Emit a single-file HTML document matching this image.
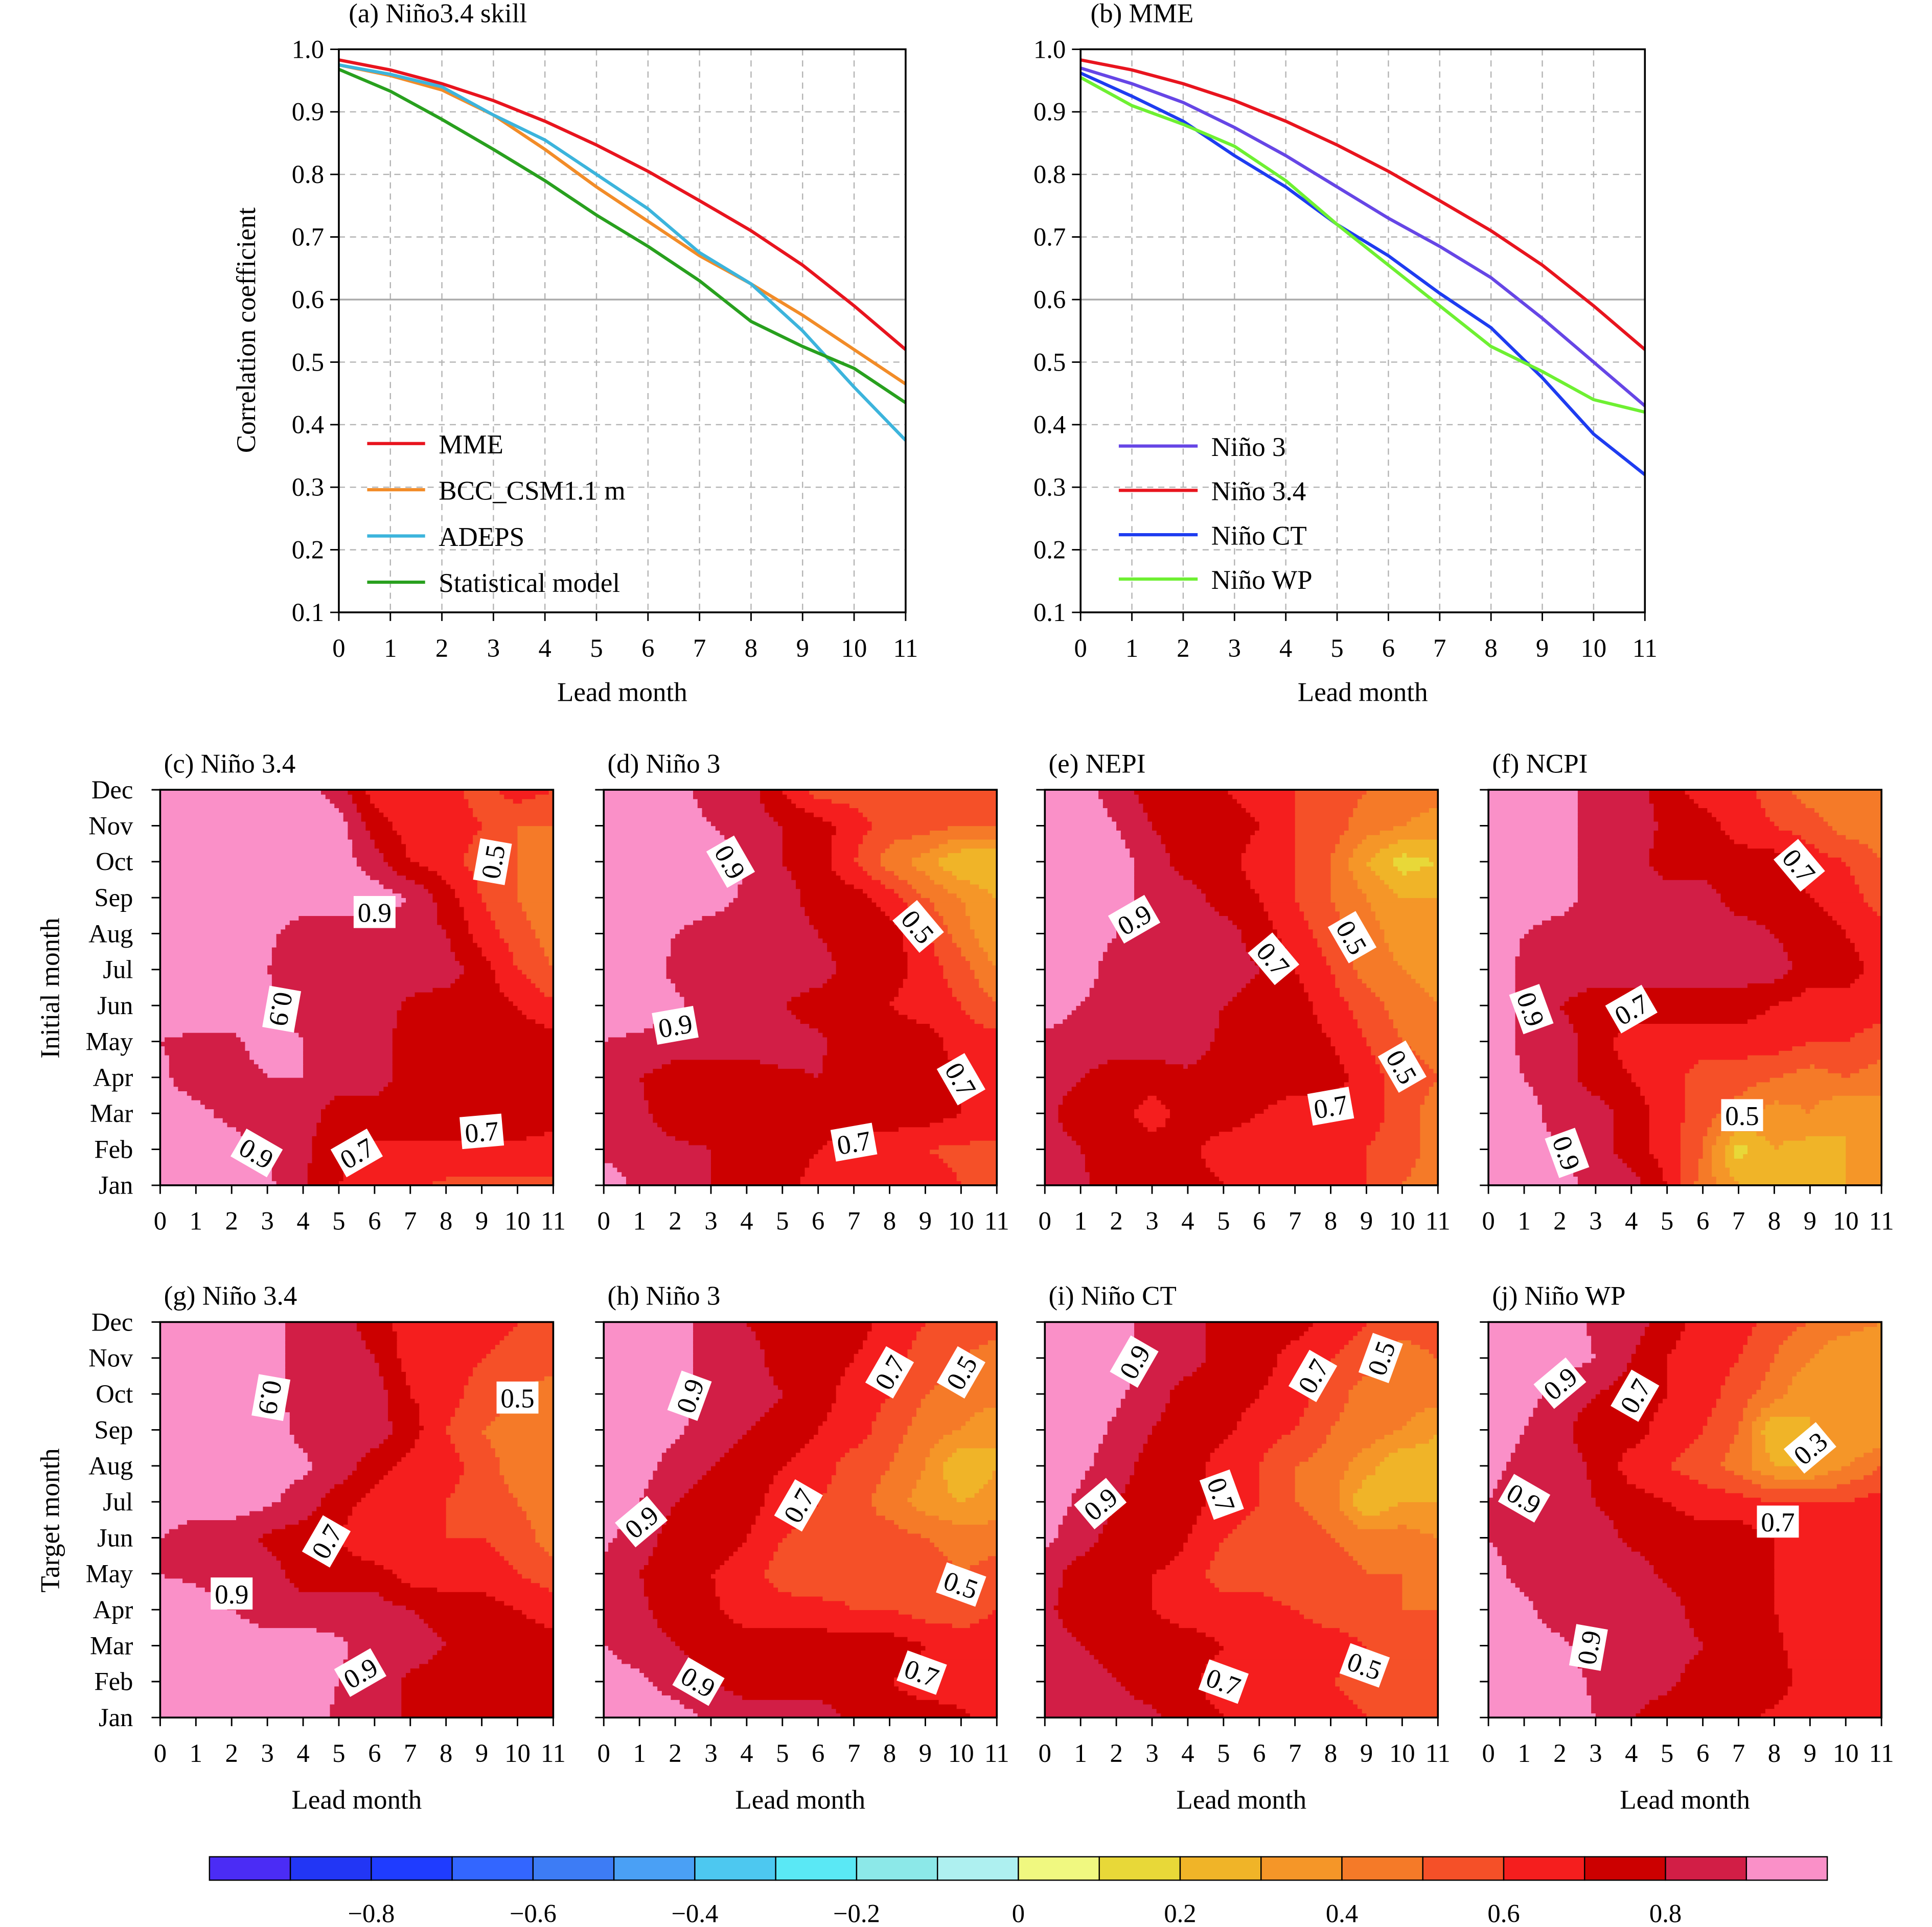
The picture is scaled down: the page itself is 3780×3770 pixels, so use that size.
<!DOCTYPE html>
<html><head><meta charset="utf-8">
<style>
html,body{margin:0;padding:0;background:#fff;}
svg{display:block;}
text{font-family:"Liberation Serif",serif;fill:#000;}
</style></head>
<body>
<svg id="fig" xmlns="http://www.w3.org/2000/svg" width="3780" height="3770" viewBox="0 0 1568 1564" preserveAspectRatio="none">
<rect x="0" y="0" width="1568" height="1564" fill="#fff"/>
</svg>
<script>
// ---------- line chart data ----------
const leads = [0,1,2,3,4,5,6,7,8,9,10,11];
const yTicks = [0.1,0.2,0.3,0.4,0.5,0.6,0.7,0.8,0.9,1.0];
const mmeVals = [0.983,0.967,0.945,0.918,0.885,0.847,0.805,0.758,0.71,0.655,0.59,0.52];
const bccVals = [0.975,0.958,0.935,0.895,0.84,0.78,0.725,0.67,0.625,0.575,0.52,0.465];
const adepsVals = [0.975,0.96,0.94,0.895,0.855,0.8,0.745,0.675,0.625,0.55,0.46,0.375];
const statVals = [0.968,0.933,0.888,0.84,0.79,0.735,0.685,0.63,0.565,0.525,0.49,0.435];
const nino3Vals = [0.97,0.945,0.915,0.875,0.83,0.78,0.73,0.685,0.635,0.57,0.5,0.43];
const nino34Vals = [0.983,0.967,0.945,0.918,0.885,0.847,0.805,0.758,0.71,0.655,0.59,0.52];
const ninoCTVals = [0.962,0.925,0.885,0.83,0.78,0.72,0.67,0.61,0.555,0.475,0.385,0.32];
const ninoWPVals = [0.955,0.91,0.88,0.845,0.79,0.72,0.655,0.59,0.525,0.485,0.44,0.42];

// ---------- heatmap data (rows listed Dec (top) -> Jan (bottom), columns lead 0..11) ----------
const months = ['Jan','Feb','Mar','Apr','May','Jun','Jul','Aug','Sep','Oct','Nov','Dec'];
const gridC = [
[.95,.95,.95,.95,.95,.85,.65,.65,.65,.55,.65,.6],
[.95,.95,.95,.95,.95,.95,.75,.65,.65,.6,.5,.5],
[.95,.95,.95,.95,.95,.95,.85,.7,.65,.55,.5,.45],
[.95,.95,.95,.95,.95,.95,.95,.9,.75,.6,.5,.4],
[.95,.95,.95,.92,.85,.85,.85,.85,.8,.65,.55,.45],
[.95,.95,.95,.9,.85,.85,.85,.85,.85,.75,.6,.5],
[.95,.95,.95,.92,.85,.85,.85,.78,.75,.75,.7,.62],
[.9,.88,.88,.95,.9,.85,.85,.75,.75,.75,.75,.75],
[.92,.85,.85,.9,.9,.85,.85,.75,.75,.75,.72,.7],
[.95,.93,.87,.8,.85,.75,.75,.75,.75,.75,.75,.72],
[.95,.95,.95,.9,.82,.72,.68,.68,.68,.68,.68,.68],
[.95,.95,.95,.92,.82,.7,.65,.62,.58,.58,.58,.58]];
const gridD = [
[.95,.95,.95,.85,.85,.7,.55,.55,.55,.55,.55,.55],
[.95,.95,.95,.9,.85,.8,.75,.65,.55,.55,.5,.5],
[.95,.95,.95,.95,.9,.8,.75,.6,.45,.35,.2,.2],
[.95,.95,.95,.95,.88,.85,.75,.75,.65,.5,.4,.3],
[.95,.95,.9,.85,.85,.85,.8,.75,.75,.62,.45,.3],
[.95,.95,.88,.85,.85,.85,.85,.75,.75,.65,.55,.4],
[.95,.95,.92,.85,.85,.8,.75,.75,.7,.65,.6,.5],
[.9,.88,.85,.85,.85,.85,.82,.75,.75,.75,.65,.65],
[.88,.8,.75,.75,.75,.78,.8,.75,.75,.75,.7,.65],
[.85,.82,.75,.75,.75,.75,.75,.75,.75,.75,.7,.65],
[.88,.85,.82,.8,.75,.75,.7,.65,.65,.6,.58,.58],
[.95,.88,.85,.8,.7,.75,.65,.65,.65,.65,.6,.6]];
const gridE = [
[.95,.95,.85,.75,.75,.7,.65,.6,.55,.5,.45,.45],
[.95,.95,.9,.8,.75,.75,.7,.6,.55,.45,.4,.35],
[.95,.95,.95,.85,.75,.75,.65,.6,.5,.3,.15,.2],
[.95,.95,.95,.85,.85,.75,.7,.6,.5,.4,.3,.3],
[.95,.95,.9,.85,.85,.85,.75,.65,.55,.45,.35,.35],
[.95,.95,.85,.85,.85,.85,.8,.7,.6,.45,.4,.35],
[.95,.9,.85,.85,.85,.8,.75,.75,.65,.55,.45,.4],
[.88,.85,.85,.85,.85,.78,.75,.75,.7,.6,.5,.45],
[.85,.8,.75,.75,.78,.75,.75,.75,.75,.65,.55,.5],
[.82,.75,.75,.65,.75,.75,.7,.65,.65,.65,.55,.45],
[.85,.8,.75,.75,.72,.65,.65,.65,.65,.6,.55,.45],
[.85,.82,.75,.75,.75,.7,.65,.65,.65,.6,.5,.45]];
const gridF = [
[.95,.95,.95,.85,.85,.75,.65,.65,.55,.45,.45,.45],
[.95,.95,.95,.85,.85,.78,.75,.65,.6,.55,.45,.45],
[.95,.95,.95,.85,.85,.75,.75,.75,.75,.65,.6,.5],
[.95,.95,.95,.85,.85,.85,.85,.75,.75,.7,.65,.55],
[.95,.9,.85,.85,.85,.85,.85,.85,.8,.75,.7,.65],
[.95,.88,.85,.85,.85,.85,.85,.85,.85,.75,.75,.65],
[.95,.88,.8,.75,.75,.75,.75,.75,.7,.65,.65,.65],
[.95,.88,.85,.75,.65,.65,.65,.65,.65,.6,.6,.55],
[.95,.9,.85,.75,.7,.65,.55,.55,.5,.45,.5,.45],
[.95,.95,.85,.85,.75,.65,.55,.45,.35,.4,.3,.35],
[.95,.95,.9,.85,.75,.65,.5,.15,.3,.25,.3,.3],
[.95,.95,.95,.85,.85,.7,.45,.3,.3,.3,.3,.3]];
const gridG = [
[.95,.95,.95,.95,.85,.85,.75,.65,.65,.65,.6,.55],
[.95,.95,.95,.95,.85,.85,.8,.65,.65,.6,.55,.55],
[.95,.95,.95,.95,.85,.85,.85,.7,.65,.55,.5,.45],
[.95,.95,.95,.95,.87,.85,.85,.75,.6,.5,.45,.45],
[.95,.95,.95,.95,.92,.85,.75,.65,.65,.55,.45,.45],
[.95,.95,.95,.92,.85,.75,.65,.65,.6,.55,.5,.45],
[.9,.85,.85,.78,.75,.7,.6,.65,.6,.6,.55,.45],
[.9,.88,.85,.85,.75,.75,.75,.65,.65,.65,.6,.55],
[.95,.95,.9,.85,.85,.85,.85,.8,.75,.75,.7,.65],
[.95,.95,.95,.95,.95,.92,.85,.85,.8,.75,.75,.75],
[.95,.95,.95,.95,.95,.9,.85,.78,.75,.75,.75,.75],
[.95,.95,.95,.95,.95,.88,.85,.78,.75,.75,.75,.75]];
const gridH = [
[.95,.95,.95,.85,.8,.75,.75,.75,.65,.6,.55,.55],
[.95,.95,.95,.85,.85,.75,.75,.7,.65,.55,.5,.45],
[.95,.95,.95,.87,.85,.8,.75,.65,.6,.5,.45,.45],
[.95,.95,.92,.85,.8,.75,.7,.65,.55,.45,.4,.3],
[.95,.95,.85,.8,.75,.7,.65,.55,.5,.4,.2,.3],
[.95,.9,.8,.75,.75,.65,.6,.55,.45,.35,.3,.35],
[.92,.85,.75,.75,.7,.6,.55,.5,.55,.5,.45,.45],
[.88,.8,.75,.7,.65,.55,.5,.55,.55,.55,.5,.55],
[.85,.82,.75,.72,.65,.65,.65,.6,.6,.55,.55,.6],
[.9,.85,.8,.75,.75,.75,.75,.75,.75,.7,.65,.65],
[.95,.92,.85,.8,.75,.75,.75,.75,.7,.65,.65,.65],
[.95,.95,.95,.88,.85,.85,.85,.78,.75,.75,.72,.65]];
const gridI = [
[.95,.95,.95,.85,.85,.75,.75,.75,.65,.6,.55,.55],
[.95,.95,.95,.85,.85,.75,.75,.65,.6,.55,.45,.5],
[.95,.95,.92,.85,.75,.75,.7,.65,.55,.45,.45,.45],
[.95,.95,.88,.8,.75,.72,.65,.6,.5,.45,.4,.3],
[.95,.92,.85,.75,.75,.65,.6,.5,.45,.35,.2,.25],
[.95,.88,.8,.75,.75,.65,.6,.5,.45,.2,.3,.3],
[.92,.85,.75,.8,.7,.6,.55,.55,.5,.45,.45,.4],
[.85,.75,.75,.7,.65,.55,.55,.5,.55,.5,.5,.45],
[.82,.75,.75,.7,.65,.65,.65,.6,.55,.55,.5,.5],
[.85,.8,.75,.75,.75,.7,.65,.65,.65,.6,.55,.5],
[.88,.85,.8,.75,.72,.65,.65,.65,.6,.55,.55,.55],
[.88,.85,.85,.82,.75,.7,.65,.65,.65,.6,.6,.6]];
const gridJ = [
[.95,.95,.95,.88,.85,.75,.65,.65,.55,.5,.45,.4],
[.95,.95,.95,.9,.8,.7,.65,.6,.5,.4,.3,.3],
[.95,.95,.85,.8,.75,.7,.65,.55,.45,.3,.3,.3],
[.95,.9,.82,.75,.75,.65,.6,.5,.2,.3,.3,.3],
[.92,.88,.85,.78,.65,.6,.55,.45,.3,.3,.4,.5],
[.9,.85,.85,.8,.75,.7,.65,.65,.6,.6,.6,.65],
[.9,.88,.85,.85,.78,.75,.75,.75,.7,.65,.65,.65],
[.92,.88,.85,.85,.85,.78,.75,.72,.7,.65,.65,.65],
[.95,.92,.85,.85,.85,.85,.75,.75,.7,.65,.65,.65],
[.95,.95,.92,.85,.85,.85,.8,.75,.72,.65,.65,.65],
[.95,.95,.95,.88,.85,.82,.75,.75,.75,.65,.65,.65],
[.95,.95,.95,.9,.8,.75,.75,.72,.68,.65,.65,.65]];

// contour labels: [lead, monthIndex(0=Jan), text, angle]
const labelsC = [[6,7.6,'0.9',0],[3.4,4.9,'0.9',100],[9.3,9.0,'0.5',-80],[2.7,0.9,'0.9',30],[5.5,0.9,'0.7',-30],[9.0,1.5,'0.7',-5]];
const labelsD = [[3.55,9.0,'0.9',60],[2.0,4.45,'0.9',-10],[8.8,7.2,'0.5',50],[10.0,2.95,'0.7',60],[7.0,1.2,'0.7',-10]];
const labelsE = [[2.5,7.4,'0.9',-30],[6.4,6.3,'0.7',50],[8.6,6.9,'0.5',60],[10.0,3.3,'0.5',60],[8.0,2.2,'0.7',-10]];
const labelsF = [[8.7,8.9,'0.7',50],[1.2,4.9,'0.9',70],[4.0,4.9,'0.7',-30],[7.1,1.95,'0.5',0],[2.2,0.9,'0.9',70]];
const labelsG = [[3.1,8.9,'0.9',100],[10.0,8.9,'0.5',0],[4.65,4.9,'0.7',-60],[2.0,3.45,'0.9',0],[5.6,1.25,'0.9',-30]];
const labelsH = [[2.4,8.95,'0.9',-70],[8.0,9.6,'0.7',-60],[10.0,9.6,'0.5',-60],[1.05,5.45,'0.9',-40],[5.45,5.9,'0.7',-60],[10.0,3.7,'0.5',20],[2.65,1.0,'0.9',30],[8.9,1.25,'0.7',20]];
const labelsI = [[2.5,9.9,'0.9',-60],[7.5,9.5,'0.7',-60],[9.4,10.0,'0.5',-70],[1.55,5.95,'0.9',-40],[4.95,6.2,'0.7',70],[8.95,1.45,'0.5',20],[5.0,1.0,'0.7',20]];
const labelsJ = [[2.0,9.3,'0.9',-40],[4.1,8.95,'0.7',-60],[9.0,7.5,'0.3',-40],[1.0,6.1,'0.9',30],[8.1,5.45,'0.7',0],[2.8,1.95,'0.9',-80]];

const cbTicks = [-0.8,-0.6,-0.4,-0.2,0,0.2,0.4,0.6,0.8];
const levelColors = ['#4b2cf5','#2236f5','#1f3cff','#3366ff','#3d7cf5','#4aa0f5','#4dc8f0','#5ae8f5','#8ce8e8','#aef0f0',
 '#f0f880','#e8d838','#f0b428','#f59628','#f57a28','#f55028','#f51e1e','#cc0000','#d21e46','#fa90c8'];

const NS='http://www.w3.org/2000/svg';
const svg=document.getElementById('fig');
function mk(tag,attrs,parent){const e=document.createElementNS(NS,tag);for(const k in attrs)e.setAttribute(k,attrs[k]);(parent||svg).appendChild(e);return e;}
function txt(s,x,y,size,anchor,parent,extra){const t=mk('text',Object.assign({x:x,y:y,'font-size':size,'text-anchor':anchor||'start'},extra||{}),parent);t.textContent=s;return t;}
function colorFor(v){let i=Math.floor((v+1)/0.1+1e-9);if(i<0)i=0;if(i>19)i=19;return levelColors[i];}

// ---------- line charts ----------
function lineChart(opt){
  const g=mk('g',{});
  
  
  const x0=opt.x0,x1=opt.x1,yTop=40,yBot=497;
  const sx=v=>x0+(v-0)/(11-0)*(x1-x0);
  const sy=v=>yBot-(v-0.1)/(1.0-0.1)*(yBot-yTop);
  leads.forEach(l=>{if(l>0&&l<11){const gl=mk('line',{x1:sx(l),x2:sx(l),y1:yTop,y2:yBot,stroke:'#b4b4b4','stroke-width':1,'stroke-dasharray':'5,4'},g);}});
  yTicks.forEach(t=>{if(t>0.15&&t<0.95){const solid=Math.abs(t-0.6)<1e-6;const gl=mk('line',{x1:x0,x2:x1,y1:sy(t),y2:sy(t),stroke:solid?'#aaaaaa':'#b4b4b4','stroke-width':solid?1.4:1,'stroke-dasharray':solid?'none':'5,4'},g);}});
  opt.series.forEach(s=>{
    const d=s.vals.map((v,i)=>(i?'L':'M')+sx(leads[i]).toFixed(2)+','+sy(v).toFixed(2)).join('');
    const p=mk('path',{d:d,fill:'none',stroke:s.color,'stroke-width':2.6},g);
    
    
  });
  const fr=mk('rect',{x:x0,y:yTop,width:x1-x0,height:yBot-yTop,fill:'none',stroke:'#000','stroke-width':1.5},g);
  
  
  yTicks.forEach(t=>{mk('line',{x1:x0-7,x2:x0,y1:sy(t),y2:sy(t),stroke:'#000','stroke-width':1.2},g);
    const tl=txt(t.toFixed(1),x0-12,sy(t)+7,21,'end',g);});
  leads.forEach(l=>{mk('line',{x1:sx(l),x2:sx(l),y1:yBot,y2:yBot+7,stroke:'#000','stroke-width':1.2},g);
    const tl=txt(String(l),sx(l),yBot+36,21,'middle',g);});
  const xt=txt('Lead month',(x0+x1)/2,569,22,'middle',g);
  const tt=txt(opt.title,x0+8,18,22,'start',g);
  opt.series.forEach((s,i)=>{
    const ly=opt.legY+i*opt.legDy;
    const le=mk('g',{},g);
    
    
    mk('line',{x1:opt.legX,x2:opt.legX+opt.legW,y1:ly,y2:ly,stroke:s.color,'stroke-width':2.6},le);
    txt(s.label,opt.legX+opt.legW+11,ly+8,22,'start',le);
  });
}
lineChart({name:'chart-a-nino34-skill',x0:275,x1:735,title:'(a) Niño3.4 skill',legX:298,legW:47,legY:360,legDy:37.5,series:[
 {id:'mme',label:'MME',vals:mmeVals,color:'#e8141e'},
 {id:'bcc',label:'BCC_CSM1.1 m',vals:bccVals,color:'#f28c28'},
 {id:'adeps',label:'ADEPS',vals:adepsVals,color:'#3cb4dc'},
 {id:'statistical',label:'Statistical model',vals:statVals,color:'#28a01e'}]});
lineChart({name:'chart-b-mme',x0:877,x1:1335,title:'(b) MME',legX:908,legW:64,legY:362,legDy:36,series:[
 {id:'nino3',label:'Niño 3',vals:nino3Vals,color:'#6646e6'},
 {id:'nino34',label:'Niño 3.4',vals:nino34Vals,color:'#e8141e'},
 {id:'ninoct',label:'Niño CT',vals:ninoCTVals,color:'#1e3cf0'},
 {id:'ninowp',label:'Niño WP',vals:ninoWPVals,color:'#6ef032'}]});
const yl=txt('Correlation coefficient',0,0,22,'middle',svg,{transform:'translate(207,268) rotate(-90)'});



// ---------- heatmaps ----------
function heatmap(opt){
  const g=mk('g',{});
  
  
  const x0=opt.x0,w=319,y0=opt.y0,h=321;
  const sx=l=>x0+l/11*w;
  const sy=m=>y0+h-m/11*h;
  const rowsTD=opt.grid;
  const val=(l,m)=>rowsTD[11-m][l];
  const SUB=8,N=11*SUB;
  const cw=w/N,ch=h/N;
  const cells=mk('g',{},g);
  
  
  for(let j=0;j<N;j++){
    const m=(j+0.5)/SUB; const mi=Math.min(10,Math.floor(m)); const fm=m-mi;
    let runStart=0,runCol=null;
    for(let i=0;i<=N;i++){
      let c=null;
      if(i<N){const l=(i+0.5)/SUB;const li=Math.min(10,Math.floor(l));const fl=l-li;
        const v=(1-fl)*(1-fm)*val(li,mi)+fl*(1-fm)*val(li+1,mi)+(1-fl)*fm*val(li,mi+1)+fl*fm*val(li+1,mi+1);
        c=colorFor(v);}
      if(c!==runCol){
        if(runCol!==null){const r=mk('rect',{x:(x0+runStart*cw).toFixed(2),y:(y0+h-(j+1)*ch-0.3).toFixed(2),width:((i-runStart)*cw+0.4).toFixed(2),height:(ch+0.6).toFixed(2),fill:runCol},cells);
          
          }
        runStart=i;runCol=c;
      }
    }
  }
  opt.labels.forEach(lb=>{
    const cx=sx(lb[0]),cy=sy(lb[1]);
    const lg=mk('g',{transform:`translate(${cx},${cy}) rotate(${lb[3]})`},g);
    
    
    mk('rect',{x:-17,y:-13,width:34,height:26,fill:'#fff'},lg);
    txt(lb[2],0,8,22,'middle',lg);
  });
  const fr=mk('rect',{x:x0,y:y0,width:w,height:h,fill:'none',stroke:'#000','stroke-width':1.5},g);
  
  
  months.forEach((mn,i)=>{mk('line',{x1:x0-7,x2:x0,y1:sy(i),y2:sy(i),stroke:'#000','stroke-width':1.2},g);
    if(opt.showMonths){const t=txt(mn,108,sy(i)+7,21,'end',g);}});
  leads.forEach(l=>{mk('line',{x1:sx(l),x2:sx(l),y1:y0+h,y2:y0+h+7,stroke:'#000','stroke-width':1.2},g);
    const t=txt(String(l),sx(l),y0+h+36,21,'middle',g);});
  const tt=txt(opt.title,x0+3,y0-14,22,'start',g);
  if(opt.xTitle){const xt=txt('Lead month',x0+w/2,y0+h+74,22,'middle',g);}
}
const topY=641,botY=1073;
heatmap({name:'heatmap-c-nino34',x0:130,y0:topY,grid:gridC,labels:labelsC,title:'(c) Niño 3.4',showMonths:true});
heatmap({name:'heatmap-d-nino3',x0:490,y0:topY,grid:gridD,labels:labelsD,title:'(d) Niño 3'});
heatmap({name:'heatmap-e-nepi',x0:848,y0:topY,grid:gridE,labels:labelsE,title:'(e) NEPI'});
heatmap({name:'heatmap-f-ncpi',x0:1208,y0:topY,grid:gridF,labels:labelsF,title:'(f) NCPI'});
heatmap({name:'heatmap-g-nino34',x0:130,y0:botY,grid:gridG,labels:labelsG,title:'(g) Niño 3.4',showMonths:true,xTitle:true});
heatmap({name:'heatmap-h-nino3',x0:490,y0:botY,grid:gridH,labels:labelsH,title:'(h) Niño 3',xTitle:true});
heatmap({name:'heatmap-i-ninoct',x0:848,y0:botY,grid:gridI,labels:labelsI,title:'(i) Niño CT',xTitle:true});
heatmap({name:'heatmap-j-ninowp',x0:1208,y0:botY,grid:gridJ,labels:labelsJ,title:'(j) Niño WP',xTitle:true});
const im=txt('Initial month',0,0,22,'middle',svg,{transform:'translate(48,802) rotate(-90)'});


const tm=txt('Target month',0,0,22,'middle',svg,{transform:'translate(48,1234) rotate(-90)'});



// ---------- colorbar ----------
(function(){
  const g=mk('g',{});
  
  
  const cx0=170,cx1=1483,cy=1507,chh=19;
  const sx=v=>cx0+(v+1)/2*(cx1-cx0);
  levelColors.forEach((c,i)=>{
    const r=mk('rect',{x:sx(-1+i*0.1),y:cy,width:sx(-0.9)-sx(-1),height:chh,fill:c,stroke:'#000','stroke-width':1},g);
    
    
  });
  cbTicks.forEach(t=>{
    const s=(t<0?'\u2212':'')+(Math.abs(t)<1e-9?'0':Math.abs(t).toFixed(1));
    const tl=txt(s,sx(t),1560,21,'middle',g);
    
    
  });
})();
</script>
</body></html>
